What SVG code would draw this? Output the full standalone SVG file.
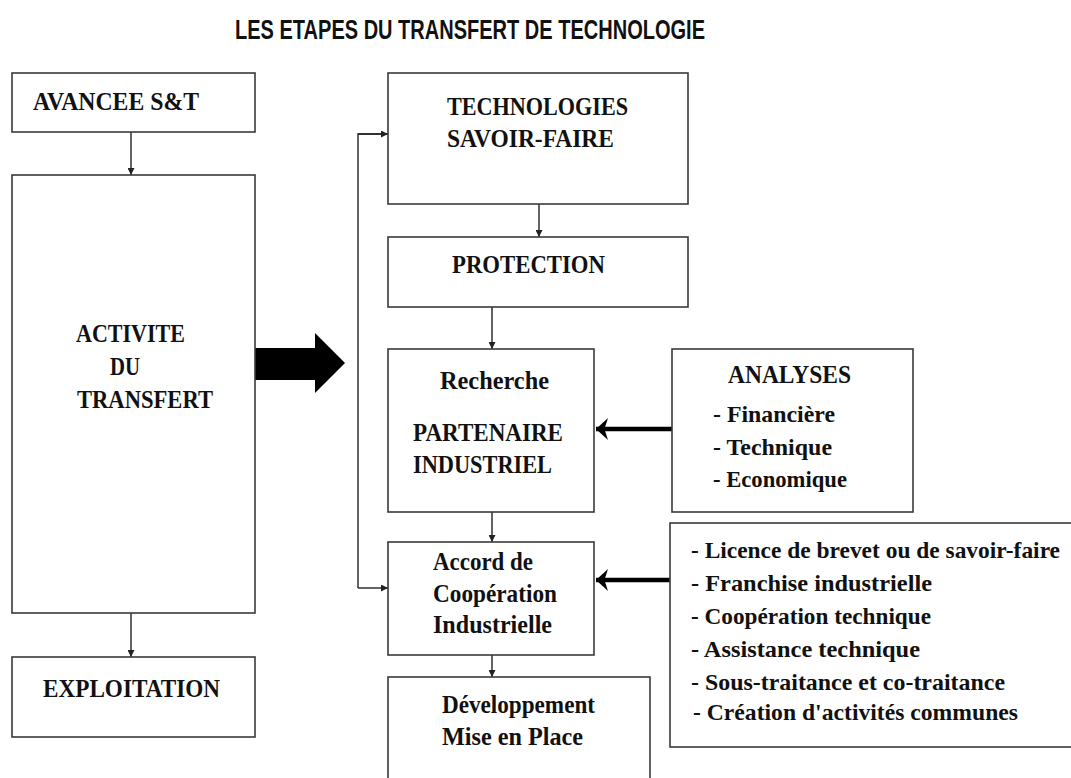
<svg xmlns="http://www.w3.org/2000/svg" width="1071" height="778" viewBox="0 0 1071 778">
<style>
.box{fill:#fff;stroke:#3a3a3a;stroke-width:1.6}
.t{font-family:"Liberation Serif","Times New Roman",serif;font-weight:bold;font-size:25px;fill:#111}
.s{font-size:23px}
.title{font-family:"Liberation Sans",Arial,sans-serif;font-weight:bold;font-size:27px;fill:#111}
.thin{fill:none;stroke:#222;stroke-width:1.4}
.thick{fill:none;stroke:#000;stroke-width:4.5}
</style>
<defs>
<marker id="ah" viewBox="0 0 10 10" refX="10" refY="5" markerWidth="7" markerHeight="7" markerUnits="userSpaceOnUse" orient="auto"><path d="M0,0 L10,5 L0,10 z" fill="#222"/></marker>
<marker id="ahb" viewBox="0 0 10 10" refX="10" refY="5" markerWidth="12" markerHeight="22" markerUnits="userSpaceOnUse" orient="auto" preserveAspectRatio="none"><path d="M0,0 L10,5 L0,10 L3,5 z" fill="#000"/></marker>
</defs>
<rect width="1071" height="778" fill="#fff"/>
<text class="title" x="235" y="39" textLength="470" lengthAdjust="spacingAndGlyphs">LES ETAPES DU TRANSFERT DE TECHNOLOGIE</text>

<g id="connectors">
<line class="thin" x1="131" y1="132" x2="131" y2="175" marker-end="url(#ah)"/>
<line class="thin" x1="131" y1="613" x2="131" y2="657" marker-end="url(#ah)"/>
<line class="thin" x1="539" y1="204" x2="539" y2="237" marker-end="url(#ah)"/>
<line class="thin" x1="492" y1="307" x2="492" y2="349" marker-end="url(#ah)"/>
<line class="thin" x1="492" y1="512" x2="492" y2="542" marker-end="url(#ah)"/>
<line class="thin" x1="492" y1="655" x2="492" y2="677" marker-end="url(#ah)"/>
<path class="thin" d="M388,134 H358 V588" />
<line class="thin" x1="358" y1="134" x2="388" y2="134" marker-end="url(#ah)"/>
<line class="thin" x1="358" y1="588" x2="388" y2="588" marker-end="url(#ah)"/>
<line class="thick" x1="672" y1="429" x2="596" y2="429" marker-end="url(#ahb)"/>
<line class="thick" x1="670" y1="580" x2="596" y2="580" marker-end="url(#ahb)"/>
<polygon points="255,348 315,348 315,333 345,363 315,393 315,380 255,380" fill="#000"/>
</g>

<g id="avancee">
<rect class="box" x="12" y="73" width="243" height="59"/>
<text class="t" x="33" y="110" textLength="166" lengthAdjust="spacingAndGlyphs">AVANCEE S&amp;T</text>
</g>
<g id="activite">
<rect class="box" x="12" y="175" width="243" height="438"/>
<text class="t" x="76" y="342" textLength="109" lengthAdjust="spacingAndGlyphs">ACTIVITE</text>
<text class="t" x="110" y="375" textLength="30" lengthAdjust="spacingAndGlyphs">DU</text>
<text class="t" x="77" y="408" textLength="136" lengthAdjust="spacingAndGlyphs">TRANSFERT</text>
</g>
<g id="exploitation">
<rect class="box" x="12" y="657" width="243" height="80"/>
<text class="t" x="43" y="697" textLength="177" lengthAdjust="spacingAndGlyphs">EXPLOITATION</text>
</g>
<g id="technologies">
<rect class="box" x="388" y="73" width="300" height="131"/>
<text class="t" x="447" y="115" textLength="181" lengthAdjust="spacingAndGlyphs">TECHNOLOGIES</text>
<text class="t" x="447" y="147" textLength="167" lengthAdjust="spacingAndGlyphs">SAVOIR-FAIRE</text>
</g>
<g id="protection">
<rect class="box" x="388" y="237" width="300" height="70"/>
<text class="t" x="452" y="273" textLength="153" lengthAdjust="spacingAndGlyphs">PROTECTION</text>
</g>
<g id="recherche">
<rect class="box" x="388" y="349" width="206" height="163"/>
<text class="t" x="440" y="389" textLength="109" lengthAdjust="spacingAndGlyphs">Recherche</text>
<text class="t" x="413" y="441" textLength="150" lengthAdjust="spacingAndGlyphs">PARTENAIRE</text>
<text class="t" x="413" y="473" textLength="139" lengthAdjust="spacingAndGlyphs">INDUSTRIEL</text>
</g>
<g id="analyses">
<rect class="box" x="672" y="349" width="241" height="163"/>
<text class="t" x="728" y="383" textLength="123" lengthAdjust="spacingAndGlyphs">ANALYSES</text>
<text class="t s" x="713" y="422" textLength="122" lengthAdjust="spacingAndGlyphs">- Financière</text>
<text class="t s" x="713" y="455" textLength="119" lengthAdjust="spacingAndGlyphs">- Technique</text>
<text class="t s" x="713" y="487" textLength="134" lengthAdjust="spacingAndGlyphs">- Economique</text>
</g>
<g id="accord">
<rect class="box" x="388" y="542" width="206" height="113"/>
<text class="t" x="433" y="570" textLength="100" lengthAdjust="spacingAndGlyphs">Accord de</text>
<text class="t" x="433" y="602" textLength="124" lengthAdjust="spacingAndGlyphs">Coopération</text>
<text class="t" x="433" y="633" textLength="119" lengthAdjust="spacingAndGlyphs">Industrielle</text>
</g>
<g id="formes">
<rect class="box" x="670" y="523" width="420" height="224"/>
<text class="t s" x="691" y="558" textLength="369" lengthAdjust="spacingAndGlyphs">- Licence de brevet ou de savoir-faire</text>
<text class="t s" x="691" y="591" textLength="241" lengthAdjust="spacingAndGlyphs">- Franchise industrielle</text>
<text class="t s" x="691" y="624" textLength="240" lengthAdjust="spacingAndGlyphs">- Coopération technique</text>
<text class="t s" x="691" y="657" textLength="229" lengthAdjust="spacingAndGlyphs">- Assistance technique</text>
<text class="t s" x="691" y="690" textLength="314" lengthAdjust="spacingAndGlyphs">- Sous-traitance et co-traitance</text>
<text class="t s" x="693" y="720" textLength="325" lengthAdjust="spacingAndGlyphs">- Création d'activités communes</text>
</g>
<g id="developpement">
<rect class="box" x="388" y="677" width="262" height="120"/>
<text class="t" x="442" y="713" textLength="153" lengthAdjust="spacingAndGlyphs">Développement</text>
<text class="t" x="442" y="745" textLength="141" lengthAdjust="spacingAndGlyphs">Mise en Place</text>
</g>
</svg>
